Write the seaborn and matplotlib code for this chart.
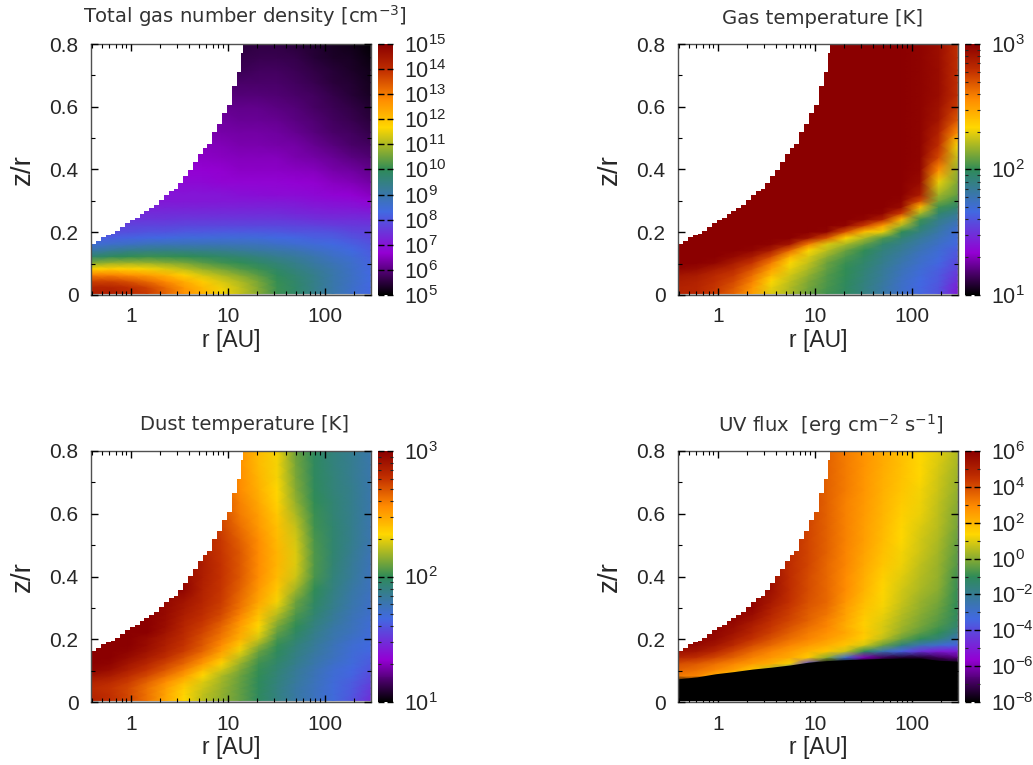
import numpy as np
import pandas as pd
import matplotlib
matplotlib.use('Agg')
import matplotlib.pyplot as plt
from matplotlib.colors import LinearSegmentedColormap
from matplotlib.transforms import Affine2D
import seaborn as sns

sns.set_style('white')
plt.rcParams['font.family'] = ['Liberation Sans', 'DejaVu Sans']
plt.rcParams['mathtext.fontset'] = 'custom'
plt.rcParams['mathtext.rm'] = 'Liberation Sans'
plt.rcParams['mathtext.default'] = 'regular'

# grid of the model: log10(r / AU) along x, z/r along y (finer near the midplane)
log_r = [-0.41, -0.218, -0.026, 0.166, 0.358, 0.55, 0.742, 0.934, 1.126, 1.318,
         1.51, 1.702, 1.894, 2.086, 2.278, 2.47]
z_r = [0.005, 0.02, 0.04, 0.06, 0.08, 0.1, 0.12, 0.14, 0.16, 0.18, 0.2, 0.22, 0.24, 0.26,
       0.28, 0.3, 0.32, 0.36, 0.4, 0.44, 0.48, 0.52, 0.56, 0.6, 0.64, 0.68, 0.72, 0.76, 0.796]
SPLIT = 16  # row where the z/r spacing changes

# upper edge of the disk, everything above it stays white
disk_log_r = [-0.41, -0.36, -0.31, -0.26, -0.21, -0.16, -0.11, -0.06, -0.01, 0.04, 0.09,
              0.14, 0.19, 0.24, 0.29, 0.34, 0.39, 0.44, 0.49, 0.54, 0.59, 0.64, 0.69,
              0.74, 0.79, 0.84, 0.89, 0.94, 0.99, 1.04, 1.09, 1.14, 1.16]
disk_z_r = [0.161, 0.172, 0.184, 0.19, 0.196, 0.205, 0.216, 0.228, 0.24, 0.247, 0.258,
            0.268, 0.278, 0.288, 0.302, 0.318, 0.33, 0.337, 0.358, 0.378, 0.4, 0.425, 0.448,
            0.468, 0.482, 0.518, 0.545, 0.58, 0.606, 0.665, 0.71, 0.77, 0.8]

# log10 of each quantity, rows from the midplane upward
gas_density = [
    [14.3, 14.3, 14.1, 13.8, 13.3, 12.7, 12.2, 11.6, 11.2, 10.7, 10.1, 9.8, 9.4, 9.0, 8.6, 8.3],
    [14.2, 14.2, 14.0, 13.7, 13.2, 12.6, 12.1, 11.55, 11.15, 10.65, 10.1, 9.8, 9.4, 9.0, 8.65, 8.3],
    [13.7, 13.7, 13.5, 13.2, 12.8, 12.3, 11.8, 11.35, 11.0, 10.55, 10.05, 9.75, 9.4, 9.0, 8.7, 8.35],
    [12.9, 12.9, 12.7, 12.5, 12.2, 11.75, 11.3, 11.0, 10.7, 10.35, 9.95, 9.65, 9.35, 9.0, 8.7, 8.35],
    [11.7, 11.8, 11.75, 11.6, 11.4, 11.1, 10.8, 10.55, 10.3, 10.1, 9.8, 9.5, 9.25, 8.95, 8.65, 8.3],
    [10.6, 10.8, 10.85, 10.8, 10.7, 10.55, 10.35, 10.15, 10.0, 9.8, 9.6, 9.35, 9.1, 8.85, 8.6, 8.25],
    [9.7, 9.9, 10.0, 10.1, 10.05, 10.0, 9.9, 9.8, 9.65, 9.5, 9.3, 9.15, 8.95, 8.7, 8.5, 8.2],
    [9.0, 9.2, 9.35, 9.4, 9.45, 9.4, 9.35, 9.3, 9.2, 9.1, 9.0, 8.9, 8.7, 8.55, 8.35, 8.1],
    [8.5, 8.6, 8.7, 8.8, 8.85, 8.85, 8.85, 8.85, 8.8, 8.75, 8.65, 8.55, 8.45, 8.35, 8.2, 8.0],
    [8.2, 8.2, 8.25, 8.3, 8.35, 8.4, 8.4, 8.45, 8.45, 8.4, 8.35, 8.3, 8.2, 8.15, 8.0, 7.85],
    [7.9, 7.9, 7.9, 8.0, 8.0, 8.05, 8.05, 8.1, 8.1, 8.1, 8.05, 8.0, 8.0, 7.95, 7.8, 7.7],
    [7.75, 7.75, 7.75, 7.75, 7.75, 7.8, 7.8, 7.8, 7.8, 7.8, 7.8, 7.75, 7.7, 7.65, 7.6, 7.55],
    [7.5, 7.5, 7.5, 7.5, 7.5, 7.55, 7.55, 7.55, 7.55, 7.55, 7.55, 7.5, 7.45, 7.4, 7.4, 7.35],
    [7.35, 7.35, 7.35, 7.35, 7.35, 7.35, 7.35, 7.35, 7.35, 7.35, 7.35, 7.3, 7.25, 7.2, 7.2, 7.15],
    [7.2, 7.2, 7.2, 7.2, 7.2, 7.2, 7.2, 7.2, 7.2, 7.2, 7.2, 7.15, 7.1, 7.05, 7.0, 6.95],
    [7.05, 7.05, 7.05, 7.05, 7.05, 7.05, 7.05, 7.05, 7.05, 7.05, 7.05, 7.0, 6.95, 6.9, 6.85, 6.75],
    [7.0, 7.0, 7.0, 7.0, 7.0, 7.0, 7.0, 7.0, 6.95, 6.9, 6.85, 6.85, 6.8, 6.75, 6.7, 6.55],
    [6.8, 6.8, 6.8, 6.8, 6.8, 6.8, 6.8, 6.75, 6.75, 6.75, 6.75, 6.7, 6.65, 6.55, 6.45, 6.3],
    [6.7, 6.7, 6.7, 6.7, 6.7, 6.7, 6.7, 6.65, 6.6, 6.6, 6.6, 6.55, 6.5, 6.35, 6.25, 6.1],
    [6.6, 6.6, 6.6, 6.6, 6.6, 6.6, 6.6, 6.55, 6.5, 6.5, 6.5, 6.4, 6.3, 6.2, 6.05, 5.9],
    [6.5, 6.5, 6.5, 6.5, 6.5, 6.5, 6.5, 6.45, 6.4, 6.4, 6.35, 6.3, 6.15, 6.0, 5.85, 5.75],
    [6.4, 6.4, 6.4, 6.4, 6.4, 6.4, 6.4, 6.35, 6.3, 6.3, 6.25, 6.15, 6.0, 5.85, 5.75, 5.6],
    [6.3, 6.3, 6.3, 6.3, 6.3, 6.3, 6.3, 6.25, 6.2, 6.2, 6.15, 6.05, 5.9, 5.75, 5.65, 5.5],
    [6.2, 6.2, 6.2, 6.2, 6.2, 6.2, 6.2, 6.15, 6.1, 6.1, 6.05, 5.95, 5.8, 5.7, 5.55, 5.4],
    [6.05, 6.05, 6.05, 6.05, 6.05, 6.05, 6.05, 6.0, 5.95, 5.95, 5.9, 5.85, 5.75, 5.6, 5.45, 5.3],
    [5.95, 5.95, 5.95, 5.95, 5.95, 5.95, 5.95, 5.9, 5.85, 5.85, 5.85, 5.75, 5.65, 5.5, 5.4, 5.25],
    [5.8, 5.8, 5.8, 5.8, 5.8, 5.8, 5.8, 5.75, 5.7, 5.75, 5.75, 5.7, 5.55, 5.45, 5.35, 5.2],
    [5.7, 5.7, 5.7, 5.7, 5.7, 5.7, 5.7, 5.65, 5.6, 5.65, 5.65, 5.6, 5.45, 5.35, 5.3, 5.15],
    [5.6, 5.6, 5.6, 5.6, 5.6, 5.6, 5.6, 5.55, 5.5, 5.55, 5.55, 5.5, 5.4, 5.3, 5.2, 5.05],
]

gas_temperature = [
    [2.85, 2.83, 2.75, 2.65, 2.5, 2.28, 2.2, 2.1, 2.03, 1.98, 1.9, 1.82, 1.73, 1.66, 1.6, 1.42],
    [2.85, 2.83, 2.77, 2.68, 2.53, 2.3, 2.21, 2.11, 2.04, 1.98, 1.9, 1.82, 1.73, 1.66, 1.6, 1.44],
    [2.87, 2.85, 2.79, 2.72, 2.58, 2.33, 2.23, 2.13, 2.05, 1.99, 1.91, 1.83, 1.74, 1.67, 1.61, 1.48],
    [2.9, 2.88, 2.82, 2.76, 2.63, 2.42, 2.26, 2.16, 2.06, 2.0, 1.92, 1.84, 1.75, 1.68, 1.62, 1.5],
    [2.97, 2.95, 2.88, 2.82, 2.7, 2.5, 2.3, 2.2, 2.08, 2.0, 1.93, 1.85, 1.77, 1.7, 1.64, 1.54],
    [3.0, 3.0, 2.97, 2.88, 2.78, 2.6, 2.33, 2.24, 2.1, 2.02, 1.95, 1.87, 1.79, 1.72, 1.66, 1.56],
    [3.0, 3.0, 3.0, 2.96, 2.88, 2.72, 2.45, 2.28, 2.15, 2.05, 1.97, 1.89, 1.82, 1.74, 1.68, 1.6],
    [3.0, 3.0, 3.0, 3.0, 2.97, 2.88, 2.65, 2.33, 2.22, 2.1, 2.0, 1.91, 1.85, 1.77, 1.7, 1.62],
    [3.0, 3.0, 3.0, 3.0, 3.0, 2.98, 2.9, 2.6, 2.28, 2.2, 2.08, 1.95, 1.88, 1.8, 1.73, 1.66],
    [3.0, 3.0, 3.0, 3.0, 3.0, 3.0, 3.0, 2.92, 2.7, 2.33, 2.2, 2.05, 1.93, 1.84, 1.76, 1.68],
    [3.0, 3.0, 3.0, 3.0, 3.0, 3.0, 3.0, 3.0, 2.98, 2.7, 2.4, 2.3, 2.0, 1.9, 1.8, 1.7],
    [3.0, 3.0, 3.0, 3.0, 3.0, 3.0, 3.0, 3.0, 3.0, 2.97, 2.75, 2.5, 2.2, 1.96, 1.84, 1.74],
    [3.0, 3.0, 3.0, 3.0, 3.0, 3.0, 3.0, 3.0, 3.0, 3.0, 2.97, 2.85, 2.42, 2.03, 1.88, 1.8],
    [3.0, 3.0, 3.0, 3.0, 3.0, 3.0, 3.0, 3.0, 3.0, 3.0, 3.0, 2.98, 2.75, 2.2, 1.95, 1.86],
    [3.0, 3.0, 3.0, 3.0, 3.0, 3.0, 3.0, 3.0, 3.0, 3.0, 3.0, 3.0, 2.95, 2.42, 2.03, 1.95],
    [3.0, 3.0, 3.0, 3.0, 3.0, 3.0, 3.0, 3.0, 3.0, 3.0, 3.0, 3.0, 2.98, 2.72, 2.12, 2.03],
    [3.0, 3.0, 3.0, 3.0, 3.0, 3.0, 3.0, 3.0, 3.0, 3.0, 3.0, 3.0, 3.0, 2.88, 2.18, 2.08],
    [3.0, 3.0, 3.0, 3.0, 3.0, 3.0, 3.0, 3.0, 3.0, 3.0, 3.0, 3.0, 3.0, 2.95, 2.3, 2.13],
    [3.0, 3.0, 3.0, 3.0, 3.0, 3.0, 3.0, 3.0, 3.0, 3.0, 3.0, 3.0, 3.0, 2.97, 2.55, 2.17],
    [3.0, 3.0, 3.0, 3.0, 3.0, 3.0, 3.0, 3.0, 3.0, 3.0, 3.0, 3.0, 3.0, 2.98, 2.72, 2.24],
    [3.0, 3.0, 3.0, 3.0, 3.0, 3.0, 3.0, 3.0, 3.0, 3.0, 3.0, 3.0, 3.0, 2.98, 2.8, 2.32],
    [3.0, 3.0, 3.0, 3.0, 3.0, 3.0, 3.0, 3.0, 3.0, 3.0, 3.0, 3.0, 3.0, 2.98, 2.85, 2.55],
    [3.0, 3.0, 3.0, 3.0, 3.0, 3.0, 3.0, 3.0, 3.0, 3.0, 3.0, 3.0, 3.0, 2.98, 2.9, 2.68],
    [3.0, 3.0, 3.0, 3.0, 3.0, 3.0, 3.0, 3.0, 3.0, 3.0, 3.0, 3.0, 3.0, 2.98, 2.92, 2.75],
    [3.0, 3.0, 3.0, 3.0, 3.0, 3.0, 3.0, 3.0, 3.0, 3.0, 3.0, 3.0, 3.0, 2.98, 2.94, 2.8],
    [3.0, 3.0, 3.0, 3.0, 3.0, 3.0, 3.0, 3.0, 3.0, 3.0, 3.0, 3.0, 3.0, 2.98, 2.94, 2.8],
    [3.0, 3.0, 3.0, 3.0, 3.0, 3.0, 3.0, 3.0, 3.0, 3.0, 3.0, 3.0, 3.0, 2.98, 2.94, 2.8],
    [3.0, 3.0, 3.0, 3.0, 3.0, 3.0, 3.0, 3.0, 3.0, 3.0, 3.0, 3.0, 3.0, 2.98, 2.93, 2.8],
    [3.0, 3.0, 3.0, 3.0, 3.0, 3.0, 3.0, 3.0, 3.0, 3.0, 3.0, 3.0, 3.0, 2.98, 2.93, 2.8],
]

dust_temperature = [
    [2.85, 2.8, 2.73, 2.62, 2.48, 2.33, 2.22, 2.15, 2.08, 1.98, 1.9, 1.82, 1.75, 1.68, 1.6, 1.48],
    [2.83, 2.79, 2.72, 2.62, 2.49, 2.34, 2.23, 2.16, 2.08, 1.98, 1.9, 1.82, 1.75, 1.68, 1.61, 1.5],
    [2.82, 2.78, 2.72, 2.62, 2.5, 2.36, 2.25, 2.17, 2.08, 1.99, 1.9, 1.82, 1.75, 1.68, 1.62, 1.52],
    [2.85, 2.82, 2.75, 2.66, 2.55, 2.42, 2.28, 2.18, 2.09, 1.99, 1.91, 1.83, 1.76, 1.69, 1.63, 1.55],
    [2.92, 2.88, 2.8, 2.72, 2.62, 2.5, 2.33, 2.2, 2.1, 2.0, 1.92, 1.84, 1.77, 1.7, 1.65, 1.57],
    [2.98, 2.94, 2.86, 2.78, 2.69, 2.58, 2.42, 2.27, 2.13, 2.01, 1.93, 1.85, 1.78, 1.71, 1.66, 1.6],
    [3.0, 2.98, 2.9, 2.83, 2.74, 2.65, 2.52, 2.35, 2.17, 2.03, 1.95, 1.87, 1.8, 1.73, 1.68, 1.62],
    [3.0, 3.0, 2.95, 2.88, 2.8, 2.7, 2.59, 2.43, 2.23, 2.06, 1.97, 1.89, 1.81, 1.75, 1.69, 1.64],
    [3.0, 3.0, 2.98, 2.92, 2.84, 2.75, 2.65, 2.5, 2.3, 2.1, 1.99, 1.9, 1.83, 1.76, 1.7, 1.66],
    [3.0, 3.0, 3.0, 2.94, 2.86, 2.78, 2.68, 2.56, 2.38, 2.17, 2.01, 1.92, 1.84, 1.77, 1.71, 1.67],
    [3.0, 3.0, 3.0, 2.95, 2.88, 2.8, 2.7, 2.6, 2.45, 2.25, 2.04, 1.95, 1.86, 1.79, 1.73, 1.68],
    [3.0, 3.0, 3.0, 3.0, 2.91, 2.82, 2.73, 2.63, 2.48, 2.3, 2.08, 1.97, 1.88, 1.8, 1.75, 1.69],
    [3.0, 3.0, 3.0, 3.0, 2.93, 2.83, 2.75, 2.65, 2.5, 2.33, 2.12, 2.0, 1.9, 1.82, 1.76, 1.7],
    [3.0, 3.0, 3.0, 3.0, 2.94, 2.85, 2.78, 2.69, 2.54, 2.37, 2.17, 2.03, 1.92, 1.84, 1.77, 1.71],
    [3.0, 3.0, 3.0, 3.0, 2.95, 2.87, 2.8, 2.72, 2.58, 2.4, 2.22, 2.05, 1.94, 1.85, 1.78, 1.72],
    [3.0, 3.0, 3.0, 3.0, 2.96, 2.89, 2.82, 2.74, 2.61, 2.44, 2.27, 2.08, 1.96, 1.87, 1.79, 1.73],
    [3.0, 3.0, 3.0, 3.0, 2.96, 2.9, 2.83, 2.75, 2.63, 2.48, 2.32, 2.1, 1.97, 1.88, 1.8, 1.74],
    [3.0, 3.0, 3.0, 3.0, 3.0, 2.97, 2.85, 2.77, 2.66, 2.52, 2.38, 2.18, 2.0, 1.9, 1.82, 1.75],
    [3.0, 3.0, 3.0, 3.0, 3.0, 2.95, 2.86, 2.78, 2.68, 2.55, 2.42, 2.25, 2.04, 1.92, 1.84, 1.76],
    [3.0, 3.0, 3.0, 3.0, 3.0, 2.95, 2.87, 2.78, 2.68, 2.56, 2.43, 2.28, 2.05, 1.93, 1.85, 1.77],
    [3.0, 3.0, 3.0, 3.0, 3.0, 2.95, 2.85, 2.77, 2.68, 2.56, 2.43, 2.28, 2.05, 1.94, 1.86, 1.78],
    [3.0, 3.0, 3.0, 3.0, 3.0, 2.95, 2.85, 2.76, 2.66, 2.55, 2.42, 2.26, 2.04, 1.94, 1.87, 1.79],
    [3.0, 3.0, 3.0, 3.0, 3.0, 2.95, 2.85, 2.74, 2.63, 2.52, 2.4, 2.24, 2.03, 1.94, 1.87, 1.79],
    [3.0, 3.0, 3.0, 3.0, 3.0, 2.95, 2.85, 2.72, 2.6, 2.5, 2.38, 2.2, 2.02, 1.93, 1.87, 1.8],
    [3.0, 3.0, 3.0, 3.0, 3.0, 2.95, 2.85, 2.7, 2.58, 2.47, 2.35, 2.16, 2.0, 1.93, 1.87, 1.8],
    [3.0, 3.0, 3.0, 3.0, 3.0, 2.95, 2.85, 2.7, 2.56, 2.45, 2.33, 2.14, 1.99, 1.92, 1.87, 1.8],
    [3.0, 3.0, 3.0, 3.0, 3.0, 2.95, 2.85, 2.7, 2.55, 2.43, 2.32, 2.12, 1.98, 1.92, 1.86, 1.8],
    [3.0, 3.0, 3.0, 3.0, 3.0, 2.95, 2.85, 2.7, 2.54, 2.42, 2.32, 2.11, 1.98, 1.91, 1.86, 1.8],
    [3.0, 3.0, 3.0, 3.0, 3.0, 2.95, 2.85, 2.7, 2.54, 2.42, 2.32, 2.1, 1.98, 1.91, 1.86, 1.8],
]

uv_flux = [
    [-8, -8, -8, -8, -8, -8, -8, -8, -8, -8, -8, -8, -8, -8, -8, -8],
    [-8, -8, -8, -8, -8, -8, -8, -8, -8, -8, -8, -8, -8, -8, -8, -8],
    [-8, -8, -8, -8, -8, -8, -8, -8, -8, -8, -8, -8, -8, -8, -8, -8],
    [-8, -8, -8, -8, -8, -8, -8, -8, -8, -8, -8, -8, -8, -8, -8, -8],
    [3.2, 3.0, 2.2, 1.5, 0, -2, -5, -8, -8, -8, -8, -8, -8, -8, -8, -8],
    [3.6, 3.4, 3.0, 2.5, 1.7, 0.5, -2, -6, -8, -8, -8, -8, -8, -8, -8, -8],
    [4.0, 3.8, 3.4, 3.0, 2.6, 2.2, 1.2, -4, -8, -8, -8, -8, -8, -8, -8, -8],
    [4.9, 4.6, 4.1, 3.6, 3.1, 2.7, 2.3, 1.6, 0.0, -3, -6, -7, -7.5, -7.5, -7, -6.5],
    [5.5, 5.3, 4.8, 4.1, 3.5, 3.0, 2.6, 2.1, 1.7, 0.8, -1, -2.5, -3.5, -4.5, -5, -5.0],
    [5.8, 5.7, 5.3, 4.7, 4.0, 3.5, 3.0, 2.6, 2.2, 1.7, 0.9, -0.3, -1.5, -2.5, -3, -3.5],
    [5.8, 5.8, 5.7, 5.1, 4.5, 3.9, 3.4, 3.0, 2.6, 2.1, 1.5, 0.6, -0.3, -1, -1.6, -2.5],
    [5.8, 5.8, 5.8, 5.4, 4.8, 4.2, 3.7, 3.2, 2.8, 2.35, 1.65, 0.9, 0.1, -0.5, -1, -1.9],
    [5.8, 5.8, 5.8, 5.6, 5.0, 4.4, 3.9, 3.4, 3.0, 2.2, 1.5, 0.9, 0.3, -0.2, -0.7, -1.4],
    [5.8, 5.8, 5.8, 5.8, 5.3, 4.6, 4.1, 3.6, 3.1, 2.35, 1.55, 1.0, 0.4, -0.1, -0.55, -1.2],
    [5.8, 5.8, 5.8, 5.8, 5.6, 4.8, 4.2, 3.7, 3.3, 2.45, 1.65, 1.1, 0.5, 0.0, -0.4, -1.1],
    [5.8, 5.8, 5.8, 5.8, 5.8, 5.0, 4.35, 3.8, 3.4, 2.55, 1.75, 1.2, 0.6, 0.1, -0.3, -1.05],
    [5.8, 5.8, 5.8, 5.8, 5.8, 5.2, 4.5, 3.9, 3.5, 2.7, 1.85, 1.25, 0.7, 0.2, -0.2, -1.0],
    [5.8, 5.8, 5.8, 5.8, 5.8, 5.5, 4.6, 4.0, 3.5, 2.9, 2.1, 1.4, 0.85, 0.4, 0.0, -0.9],
    [5.8, 5.8, 5.8, 5.8, 5.8, 5.5, 4.6, 4.0, 3.5, 2.9, 2.2, 1.5, 1.0, 0.5, 0.1, -0.8],
    [5.8, 5.8, 5.8, 5.8, 5.8, 5.5, 4.6, 4.1, 3.5, 3.0, 2.3, 1.7, 1.15, 0.6, 0.2, -0.6],
    [5.8, 5.8, 5.8, 5.8, 5.8, 5.5, 4.6, 4.1, 3.6, 3.0, 2.4, 1.8, 1.2, 0.75, 0.3, -0.5],
    [5.8, 5.8, 5.8, 5.8, 5.8, 5.5, 4.6, 4.1, 3.6, 3.1, 2.5, 1.9, 1.3, 0.85, 0.4, -0.35],
    [5.8, 5.8, 5.8, 5.8, 5.8, 5.5, 4.6, 4.1, 3.6, 3.1, 2.55, 2.0, 1.4, 0.95, 0.5, -0.2],
    [5.8, 5.8, 5.8, 5.8, 5.8, 5.5, 4.6, 4.1, 3.6, 3.1, 2.6, 2.05, 1.5, 1.1, 0.55, -0.1],
    [5.8, 5.8, 5.8, 5.8, 5.8, 5.5, 4.6, 4.1, 3.6, 3.1, 2.65, 2.1, 1.6, 1.15, 0.6, 0.0],
    [5.8, 5.8, 5.8, 5.8, 5.8, 5.5, 4.6, 4.1, 3.6, 3.2, 2.7, 2.15, 1.7, 1.2, 0.7, 0.1],
    [5.8, 5.8, 5.8, 5.8, 5.8, 5.5, 4.6, 4.1, 3.6, 3.2, 2.7, 2.2, 1.75, 1.3, 0.8, 0.25],
    [5.8, 5.8, 5.8, 5.8, 5.8, 5.5, 4.6, 4.1, 3.6, 3.2, 2.75, 2.25, 1.8, 1.33, 0.9, 0.35],
    [5.8, 5.8, 5.8, 5.8, 5.8, 5.5, 4.6, 4.1, 3.6, 3.2, 2.75, 2.25, 1.8, 1.35, 1.0, 0.45],
]
# top of the unlit (black) midplane in the UV panel, one value per column
uv_dark_z_r = [0.074, 0.08, 0.09, 0.097, 0.105, 0.111, 0.118, 0.127, 0.132, 0.135, 0.137,
               0.139, 0.14, 0.14, 0.133, 0.13]

titles = ['Total gas number density [cm$^{-3}$]', 'Gas temperature [K]',
          'Dust temperature [K]', 'UV flux  [erg cm$^{-2}$ s$^{-1}$]']
panels = [gas_density, gas_temperature, dust_temperature, uv_flux]
ranges = [(5, 15), (1, 3), (1, 3), (-8, 6)]
cbar_steps = [1, 1, 1, 2]
z_ticks = [0, 0.2, 0.4, 0.6, 0.8]
z_minor = [0.1, 0.3, 0.5, 0.7]
r_ticks = [1, 10, 100]

cmap = LinearSegmentedColormap.from_list('disk', [
    (0.0, 'black'), (0.167, 'darkviolet'), (0.333, 'royalblue'), (0.5, 'seagreen'),
    (0.667, 'gold'), (0.78, 'darkorange'), (0.89, '#c43200'), (1.0, 'darkred')])

W, H = 1033, 765
# pixel boxes of the four plots: left, top
boxes = [(91, 44), (678, 44), (91, 451), (678, 451)]
title_pos = [(245, 16), (822, 18), (244, 425), (831, 425)]


def heat_block(ax, values, rows, vrange, cax=None):
    """One stretch of evenly spaced rows, placed in real r and z/r through a transform."""
    df = pd.DataFrame(values, index=rows, columns=log_r)
    dx = log_r[1] - log_r[0]
    dy = (rows[-1] - rows[0]) / (len(rows) - 1)
    place = Affine2D().scale(dx, dy).translate(log_r[0], rows[0]) + ax.transData
    sns.heatmap(df, ax=ax, cbar=cax is not None, cbar_ax=cax, cmap=cmap,
                vmin=vrange[0], vmax=vrange[1], xticklabels=False, yticklabels=False,
                shading='gouraud', transform=place)


def draw_panel(fig, values, box, vrange, step, title, title_xy, dark=None):
    left, top = box
    ax = fig.add_axes([left / W, 1 - (top + 251) / H, 280 / W, 251 / H])
    cax = fig.add_axes([(left + 287) / W, 1 - (top + 251) / H, 15 / W, 251 / H])
    heat_block(ax, values[:SPLIT + 1], z_r[:SPLIT + 1], vrange, cax)
    heat_block(ax, values[SPLIT:], z_r[SPLIT:], vrange)
    ax.set_xlim(-0.412, 2.477)
    ax.set_ylim(0, 0.8)
    ax.set_axisbelow(False)
    ax.set_facecolor('#c4c4c4')

    if dark is not None:
        ax.fill_between(log_r, 0.005, dark, color='black', lw=0, zorder=1.5)
    ax.fill_between(disk_log_r, disk_z_r, 0.8, step='post', color='white', lw=0, zorder=1.5)

    for s in ax.spines.values():
        s.set_visible(True)
        s.set_color('#505050')
        s.set_linewidth(1.0)

    ax.set_xticks(np.log10(r_ticks))
    ax.set_xticklabels([str(r) for r in r_ticks])
    r_minor = [np.log10(m) + d for d in range(-1, 3) for m in range(2, 10)]
    ax.set_xticks([v for v in r_minor if -0.412 < v < 2.474], minor=True)
    ax.set_yticks(z_ticks)
    ax.set_yticklabels(['0', '0.2', '0.4', '0.6', '0.8'])
    ax.set_yticks(z_minor, minor=True)
    ax.tick_params(which='major', direction='in', length=5, width=1, color='black',
                   top=True, right=True, bottom=True, left=True, labelsize=15, pad=9)
    ax.tick_params(which='minor', direction='in', length=3, width=0.8, color='black',
                   top=True, right=True, bottom=True, left=True)
    ax.tick_params(axis='y', which='major', pad=9)
    ax.set_xlabel('r [AU]', fontsize=16.5, labelpad=2)
    ax.set_ylabel('z/r', fontsize=20, labelpad=10)

    majors = list(range(vrange[0], vrange[1] + 1, step))
    cax.set_yticks(majors)
    cax.set_yticklabels(['$10^{%d}$' % v for v in majors])
    if vrange[1] - vrange[0] <= 2:
        minors = [np.log10(m) + d for d in range(vrange[0], vrange[1]) for m in range(2, 10)]
        cax.set_yticks(minors, minor=True)
    elif step > 1:
        cax.set_yticks(list(range(vrange[0], vrange[1] + 1)), minor=True)
    cax.set_axisbelow(False)
    cax.tick_params(which='major', direction='in', length=4, width=1, color='black',
                    left=True, right=True, labelsize=15.5, pad=8)
    cax.tick_params(which='minor', direction='in', length=2.5, width=0.8, color='#222222',
                    left=True, right=True)

    fig.text(title_xy[0] / W, 1 - title_xy[1] / H, title, ha='center', va='center',
             fontsize=14.1, family='DejaVu Sans', color='#333333',
             math_fontfamily='dejavusans')


def main():
    fig = plt.figure(figsize=(W / 100, H / 100), dpi=100)
    for i, values in enumerate(panels):
        dark = uv_dark_z_r if i == 3 else None
        draw_panel(fig, values, boxes[i], ranges[i], cbar_steps[i], titles[i], title_pos[i], dark)
    fig.savefig('out.png', dpi=100)


main()
